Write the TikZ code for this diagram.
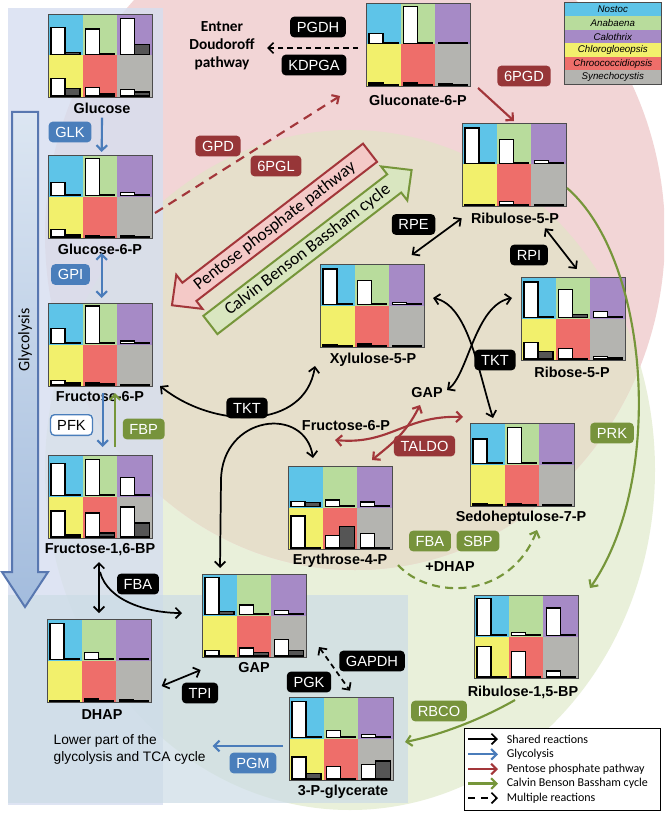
\documentclass[tikz,border=0pt]{standalone}
\usepackage{fontspec}
\setmainfont{Liberation Sans}
\newfontfamily\carl{Carlito}
\usetikzlibrary{arrows.meta,calc}
\definecolor{cNos}{HTML}{5EC4E8}
\definecolor{cAna}{HTML}{B8DC9C}
\definecolor{cCal}{HTML}{A68AC6}
\definecolor{cChl}{HTML}{F2F06C}
\definecolor{cChr}{HTML}{EE6E6A}
\definecolor{cSyn}{HTML}{B4B4B0}
\definecolor{dbar}{HTML}{555555}
\definecolor{eBlue}{HTML}{4A7EBB}
\definecolor{eRed}{HTML}{973638}
\definecolor{eGreen}{HTML}{77933C}
\definecolor{aBlue}{HTML}{4A7CBA}
\definecolor{aRed}{HTML}{A3363A}
\definecolor{aGreen}{HTML}{76963A}
\definecolor{bgPink}{HTML}{F2D5D6}
\definecolor{bgGreen}{HTML}{E9F0DA}
\definecolor{bgTan}{HTML}{E6DFCB}
\definecolor{bgPanel}{HTML}{D6DEF0}
\definecolor{bgLow}{HTML}{CCDCE6}
\definecolor{bandPink}{HTML}{F4C9C7}
\definecolor{bandGreen}{HTML}{D9E6C0}
\definecolor{glyTop}{HTML}{DCE6F2}
\definecolor{glyBot}{HTML}{A3BCDD}
\definecolor{glyLine}{HTML}{5877B0}
\tikzset{
  >={Straight Barb[length=4pt,width=8pt]},
  chartfr/.style={minimum width=78pt,minimum height=62.25pt,inner sep=0pt,draw=none},
  barw/.style={draw=black,line width=1pt,fill=white},
  bard/.style={draw=black,line width=1pt,fill=dbar},
  met/.style={font=\bfseries\fontsize{10.8}{12}\selectfont,inner sep=0pt},
  enz/.style={rounded corners=3pt,font=\fontsize{11}{12}\selectfont,text=white,
     inner xsep=5pt,inner ysep=3.8pt,text height=7.9pt,text depth=0pt},
  enzK/.style={enz,fill=black},
  enzB/.style={enz,fill=eBlue},
  enzR/.style={enz,fill=eRed},
  enzG/.style={enz,fill=eGreen},
  enzW/.style={enz,fill=white,draw=eBlue,line width=1pt,text=black},
  ka/.style={line width=1.3pt,draw=black},
  ba/.style={line width=1.6pt,draw=aBlue},
  ra/.style={line width=1.6pt,draw=aRed},
  ga/.style={line width=1.6pt,draw=aGreen},
}
\newcommand\mchart[4]{%
 \node[chartfr] (#1) at ({#2+52},{#3+41.5}) {};
 \begin{scope}[shift={(#2,#3)}]
  \fill[cNos] (0,0) rectangle (34.67,41.5);
  \fill[cAna] (34.67,0) rectangle (69.33,41.5);
  \fill[cCal] (69.33,0) rectangle (104,41.5);
  \fill[cChl] (0,41.5) rectangle (34.67,83);
  \fill[cChr] (34.67,41.5) rectangle (69.33,83);
  \fill[cSyn] (69.33,41.5) rectangle (104,83);
  \foreach \hw/\hd [count=\i from 0] in {#4}{%
    \pgfmathsetmacro\cx{mod(\i,3)*34.667}%
    \pgfmathsetmacro\cy{(int(\i/3)+1)*41.5-1}%
    \draw[barw] ({\cx+3},\cy) rectangle ({\cx+17},{\cy-\hw*40});
    \draw[bard] ({\cx+17},\cy) rectangle ({\cx+32},{\cy-\hd*40});
  }
  \draw[gray!60!black,line width=0.5pt] (0,0) rectangle (104,83);
 \end{scope}}
\begin{document}
\begin{tikzpicture}[x=0.75pt,y=-0.75pt]
\useasboundingbox (0,0) rectangle (664,813);
\fill[white] (0,0) rectangle (664,813);
% background circles
\begin{scope}
 \clip (0,0) rectangle (664,813);
 \fill[bgGreen] (350,470) ellipse [x radius=305,y radius=340];
 \fill[bgPink] (355,235) ellipse [x radius=310,y radius=335];
 \begin{scope}
  \clip (355,235) ellipse [x radius=310,y radius=335];
  \fill[bgTan] (350,470) ellipse [x radius=305,y radius=340];
 \end{scope}
 \fill[bgPanel,opacity=0.8] (8,8) rectangle (163,805);
 \fill[bgLow,opacity=0.7] (8,595) rectangle (408,803);
\end{scope}
% glycolysis arrow
\shade[top color=glyTop,bottom color=glyBot,draw=glyLine,line width=1.5pt]
  (12,112) -- (38,112) -- (38,572) -- (48,572) -- (25,607) -- (2,572) -- (12,572) -- cycle;
\node[rotate=90,font=\carl\fontsize{12}{13}\selectfont] (glyc) at (25,340) {Glycolysis};
% band arrows
\begin{scope}[shift={(271,229)},rotate=37.6]
 \draw[line width=1.5pt,draw=aRed,fill=bandPink] (125,-11.5) -- (-103,-11.5) -- (-103,-21.5) -- (-125,0) -- (-103,21.5) -- (-103,11.5) -- (125,11.5) -- cycle;
 \node[rotate=37.6,font=\carl\fontsize{13}{14}\selectfont] (pppt) at (5,0) {Pentose phosphate pathway};
\end{scope}
\begin{scope}[shift={(311,247.5)},rotate=37.6]
 \draw[line width=1.5pt,draw=aGreen,fill=bandGreen] (-127,-11.5) -- (105,-11.5) -- (105,-21.5) -- (127,0) -- (105,21.5) -- (105,11.5) -- (-127,11.5) -- cycle;
 \node[rotate=37.6,font=\carl\fontsize{13}{14}\selectfont] (cbbt) at (-4,0) {Calvin Benson Bassham cycle};
\end{scope}
% charts
\mchart{glc}{48}{14}{0.67/0.05,0.64/0.03,0.9/0.25,0.44/0.19,0.22/0.05,0.16/0.1}
\mchart{gnt}{366}{3}{0.25/0.02,0.93/0.02,0.02/0.02,0.05/0.02,0.05/0.02,0.03/0.01}
\mchart{gsp}{48}{155}{0.33/0.02,0.92/0.02,0.07/0.02,0.18/0.05,0.03/0.02,0.03/0.02}
\mchart{fsp}{48}{303}{0.38/0.02,0.94/0.02,0.06/0.02,0.12/0.05,0.05/0.03,0.02/0.02}
\mchart{fbp}{48}{455}{0.8/0.02,0.9/0.02,0.45/0.02,0.65/0.05,0.6/0.1,0.75/0.35}
\mchart{rfp}{462}{123}{0.89/0.02,0.6/0.02,0.07/0.02,0.02/0.02,0.08/0.02,0.02/0.02}
\mchart{xfp}{320}{264}{0.89/0.02,0.6/0.02,0.05/0.02,0.03/0.02,0.05/0.02,0.02/0.02}
\mchart{rbp}{521}{277}{0.89/0.02,0.7/0.07,0.15/0.02,0.42/0.18,0.26/0.02,0.06/0.04}
\mchart{efp}{288}{466}{0.12/0.1,0.16/0.02,0.11/0.02,0.8/0.02,0.32/0.54,0.36/0.02}
\mchart{ssp}{470}{423}{0.61/0.02,0.9/0.02,0.03/0.01,0.04/0.02,0.03/0.02,0.02/0.02}
\mchart{rub}{474}{595}{0.93/0.02,0.07/0.02,0.69/0.02,0.76/0.02,0.64/0.02,0.15/0.02}
\mchart{gap}{202}{574}{0.92/0.07,0.24/0.02,0.1/0.02,0.13/0.02,0.2/0.09,0.41/0.13}
\mchart{dhp}{47}{619}{0.9/0.02,0.18/0.02,0.02/0.02,0.02/0.02,0.05/0.02,0.04/0.02}
\mchart{pga}{289}{697}{0.9/0.02,0.18/0.03,0.08/0.02,0.55/0.13,0.31/0.02,0.37/0.45}
% metabolite labels
\node[met] (glcL) at (102,108) {Glucose};
\node[met] (gntL) at (418,100) {Gluconate-6-P};
\node[met] (gspL) at (100,249) {Glucose-6-P};
\node[met] (fspL) at (100,397) {Fructose-6-P};
\node[met] (fbpL) at (100,550) {Fructose-1,6-BP};
\node[met] (rfpL) at (515,218) {Ribulose-5-P};
\node[met] (xfpL) at (373,360) {Xylulose-5-P};
\node[met] (rbpL) at (572,372) {Ribose-5-P};
\node[met] (efpL) at (340,561) {Erythrose-4-P};
\node[met] (sspL) at (521,518) {Sedoheptulose-7-P};
\node[met] (rubL) at (523,692) {Ribulose-1,5-BP};
\node[met] (gapL) at (254,668) {GAP};
\node[met] (dhpL) at (102,715) {DHAP};
\node[met] (pgaL) at (343,792) {3-P-glycerate};
\node[met] (fsp2) at (346,426) {Fructose-6-P};
\node[met] (gap2) at (427,393) {GAP};
\node[met] (dhap2) at (450,567) {+DHAP};
\node[font=\carl\bfseries\fontsize{11.5}{13.5}\selectfont,align=center] (ed) at (222,46) {Entner\\Doudoroff\\pathway};
\node[font=\fontsize{10.3}{12.6}\selectfont,align=left,anchor=west] (lower) at (49,749.5) {Lower part of the\\glycolysis and TCA cycle};
% enzymes
\node[enzK] (pgdh) at (318,27) {PGDH};
\node[enzK] (kdpga) at (314,65) {KDPGA};
\node[enzR] (pgd6) at (524,76) {6PGD};
\node[enzR] (gpd) at (218,146) {GPD};
\node[enzR] (pgl6) at (276,166) {6PGL};
\node[enzB] (glk) at (70,132) {GLK};
\node[enzB] (gpi) at (70.5,274.5) {GPI};
\node[enzW] (pfk) at (71.5,425) {PFK};
\node[enzG] (fbpase) at (143.7,429) {FBP};
\node[enzK] (fba1) at (138,584) {FBA};
\node[enzK] (tpi) at (200,693) {TPI};
\node[enzK] (gapdh) at (372,661) {GAPDH};
\node[enzK] (pgk) at (309,682) {PGK};
\node[enzB] (pgm) at (253,763) {PGM};
\node[enzG] (rbco) at (439,711) {RBCO};
\node[enzG] (prk) at (612,433) {PRK};
\node[enzG] (fba2) at (430,541) {FBA};
\node[enzG] (sbp) at (478,541) {SBP};
\node[enzR] (taldo) at (424.5,446) {TALDO};
\node[enzK] (tkt1) at (247,408) {TKT};
\node[enzK] (tkt2) at (495,360) {TKT};
\node[enzK] (rpe) at (413.5,224.5) {RPE};
\node[enzK] (rpi) at (529,255) {RPI};
% connectors
\draw[ba,->] (glcL.south) ++(0,4) -- (101.7,152);
\draw[ba,<->] (101.7,253) -- (101.7,298);
\draw[ba,->] (102.7,393) -- (102.7,447);
\draw[ga,->] (115,447) -- (115,393);
\draw[ka,<->] (99,562) -- (99,613);
\draw[ka,->] (100,572) .. controls (108,602) and (150,613) .. (182,613);
\draw[ka,<->] (161.7,686) -- (200.7,670);
\draw[ka,dash pattern=on 4pt off 3pt,<->] (319,647) -- (350,690.7);
\draw[ba,->] (283,746) -- (212.7,746);
\draw[ga,->] (515,700) .. controls (480,720) and (440,735) .. (405,742);
\draw[ga,->] (567,188) .. controls (650,260) and (665,480) .. (590,588);
\draw[ga,dash pattern=on 6pt off 4pt,->] (398,565) .. controls (430,600) and (510,600) .. (537,530);
\draw[ra,<->] (335,440) .. controls (390,445) and (405,415) .. (463,417);
\draw[ra,<->] (420,405) .. controls (405,435) and (390,445) .. (372,460);
\draw[ka,<->] (160,386) .. controls (215,430) and (305,430) .. (315,366);
\draw[ka,<->] (220,568) -- (221,480) .. controls (222,415) and (305,405) .. (313,458);
\draw[ka,<->] (433,298) .. controls (468,305) and (478,370) .. (493,418);
\draw[ka,<->] (512,298) .. controls (475,305) and (468,375) .. (447,390);
\draw[ka,<->] (411.7,255) -- (461.7,218.3);
\draw[ka,<->] (545,228.3) -- (576.7,269);
\draw[ra,->] (478,88) -- (514,121);
\draw[ra,dash pattern=on 7pt off 5pt,->] (155,213) -- (340,96);
\draw[ka,dash pattern=on 4pt off 3pt,->] (358,48) -- (267,48);
% legend species
\foreach \cc/\tt [count=\i from 0] in {cNos/Nostoc,cAna/Anabaena,cCal/Calothrix,cChl/Chlorogloeopsis,cChr/Chroococcidiopsis,cSyn/Synechocystis}{
  \fill[\cc] (564,{2.7+\i*13.55}) rectangle (661.7,{2.7+(\i+1)*13.55});
  \node[font=\itshape\fontsize{7.3}{8}\selectfont] at (612.8,{2.7+(\i+0.5)*13.55}) {\tt};
}
\draw[gray!60!black,line width=0.5pt] (564,2.7) rectangle (661.7,84);
% legend arrows
\draw[black,line width=0.6pt,fill=white] (464,728) rectangle (660,810);
\coordinate (l1a) at (468,739); \coordinate (l1b) at (498,739);
\coordinate (l2a) at (468,754.3); \coordinate (l2b) at (498,754.3);
\coordinate (l3a) at (468,769); \coordinate (l3b) at (498,769);
\coordinate (l4a) at (468,783.5); \coordinate (l4b) at (498,783.5);
\coordinate (l5a) at (468,798); \coordinate (l5b) at (498,798);
\draw[ka,->] (l1a) -- (l1b);
\draw[ba,->] (l2a) -- (l2b);
\draw[ra,->] (l3a) -- (l3b);
\draw[ga,->] (l4a) -- (l4b);
\draw[ka,dash pattern=on 5pt off 5pt,->] (l5a) -- (l5b);
\foreach \tt [count=\i from 1] in {Shared reactions,Glycolysis,Pentose phosphate pathway,Calvin Benson Bassham cycle,Multiple reactions}{
  \node[anchor=west,font=\carl\fontsize{9}{10}\selectfont,inner sep=0pt] at ($(l\i b)+(8.5,0)$) {\tt};
}
\end{tikzpicture}
\end{document}
